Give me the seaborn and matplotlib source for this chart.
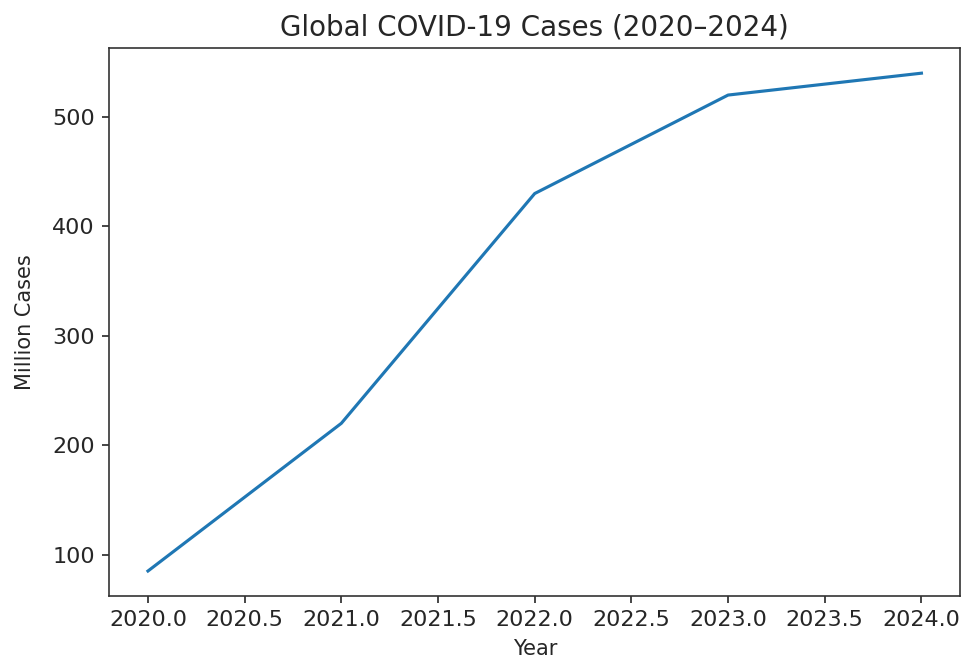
import matplotlib
matplotlib.use("Agg")
import matplotlib.pyplot as plt
import seaborn as sns
import pandas as pd

# Cumulative global COVID-19 cases, in millions
years = [2020, 2021, 2022, 2023, 2024]
cases_million = [85, 220, 430, 520, 540]

df = pd.DataFrame({"Year": years, "Million Cases": cases_million})

text_color = "#262626"
plt.rcParams.update({
    "text.color": text_color,
    "axes.labelcolor": text_color,
    "xtick.color": text_color,
    "ytick.color": text_color,
    "axes.edgecolor": "#333333",
})

fig, ax = plt.subplots(figsize=(6.42, 4.38), dpi=150)
fig.subplots_adjust(left=0.1135, right=0.997, bottom=0.093, top=0.9265)

sns.lineplot(data=df, x="Year", y="Million Cases", ax=ax, color="#1f77b4", linewidth=1.5)
ax.set_title("Global COVID-19 Cases (2020–2024)", fontsize=13.3)
ax.tick_params(labelsize=10.7)
ax.set_ylabel("Million Cases", labelpad=8)

fig.savefig("out.png", dpi=150)
